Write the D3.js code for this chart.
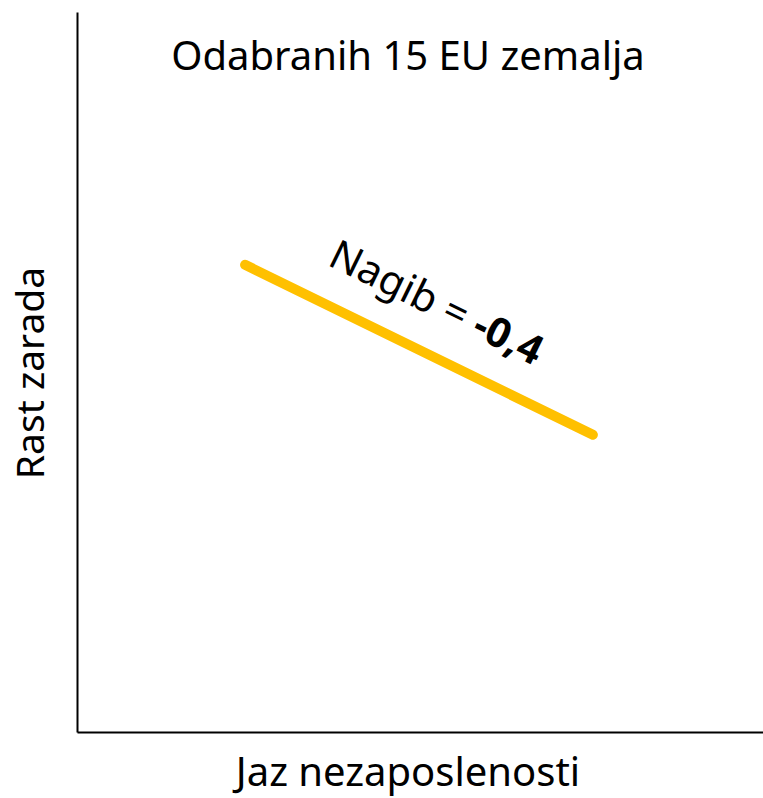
<!DOCTYPE html>
<html>
<head>
<meta charset="utf-8">
<script src="https://cdn.jsdelivr.net/npm/d3@7"></script>
<style>
  body { margin: 0; background: #fff; }
  text { font-family: "Noto Sans", "Open Sans", sans-serif; fill: #000; }
</style>
</head>
<body>
<svg id="chart"></svg>
<script>
// chart data
var titleText = "Odabranih 15 EU zemalja";
var xLabel = "Jaz nezaposlenosti";
var yLabel = "Rast zarada";
var lineX = [2.45, 7.52];
var lineY = [5.58, 3.55];
var slopeLabel = "Nagib = ";
var slopeValue = "-0,4";

var width = 763, height = 798;
var margin = {top: 12, right: 0, bottom: 66, left: 77};

var svg = d3.select("#chart")
  .attr("width", width)
  .attr("height", height);

var x = d3.scaleLinear().domain([0, 10]).range([margin.left, width - margin.right]);
var y = d3.scaleLinear().domain([0, 8.6]).range([height - margin.bottom, margin.top]);

// axes, no ticks
svg.append("g")
  .attr("transform", "translate(0," + y(0) + ")")
  .call(d3.axisBottom(x).tickValues([]).tickSizeOuter(0))
  .select(".domain").attr("stroke", "#000").attr("stroke-width", 2);

svg.append("g")
  .attr("transform", "translate(" + x(0) + ",0)")
  .call(d3.axisLeft(y).tickValues([]).tickSizeOuter(0))
  .select(".domain").attr("stroke", "#000").attr("stroke-width", 2);

// the line
var pts = lineX.map(function (d, i) { return [d, lineY[i]]; });
svg.append("path")
  .datum(pts)
  .attr("d", d3.line().x(function (d) { return x(d[0]); }).y(function (d) { return y(d[1]); }))
  .attr("fill", "none")
  .attr("stroke", "#FFC000")
  .attr("stroke-width", 10)
  .attr("stroke-linecap", "round");

// label along the line
var x1 = x(lineX[0]), y1 = y(lineY[0]), x2 = x(lineX[1]), y2 = y(lineY[1]);
var ang = Math.atan2(y2 - y1, x2 - x1) * 180 / Math.PI;
var lbl = svg.append("g")
  .attr("transform", "translate(" + ((x1 + x2) / 2) + "," + ((y1 + y2) / 2) + ") rotate(" + ang + ")")
  .append("text")
  .attr("x", -5)
  .attr("y", -36)
  .attr("text-anchor", "middle")
  .style("font-size", "41px");
lbl.append("tspan").text(slopeLabel);
lbl.append("tspan").style("font-weight", "bold").text(slopeValue);

// title
svg.append("text")
  .attr("x", 408)
  .attr("y", 70)
  .attr("text-anchor", "middle")
  .style("font-size", "40px")
  .text(titleText);

// axis labels
svg.append("text")
  .attr("x", 408)
  .attr("y", 786)
  .attr("text-anchor", "middle")
  .style("font-size", "40px")
  .text(xLabel);

svg.append("text")
  .attr("transform", "translate(44,373) rotate(-90)")
  .attr("text-anchor", "middle")
  .style("font-size", "39px")
  .text(yLabel);
</script>
</body>
</html>
